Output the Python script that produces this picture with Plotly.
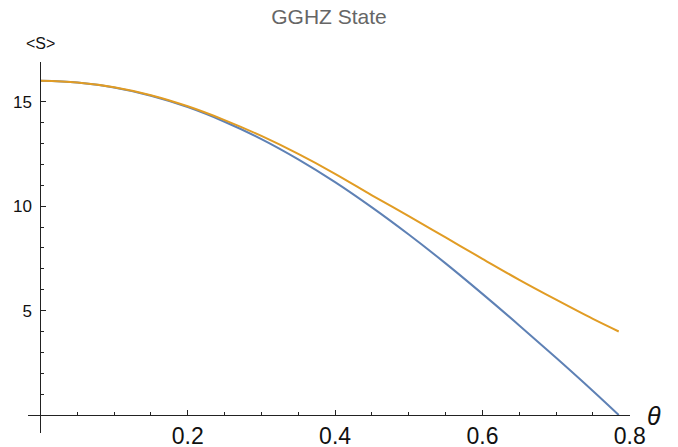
import plotly.graph_objects as go

theta = [0.0, 0.05, 0.10, 0.15, 0.20, 0.25, 0.30, 0.35, 0.40, 0.45,
         0.50, 0.55, 0.60, 0.65, 0.70, 0.75, 0.785]
s_blue = [16.00, 15.92, 15.68, 15.28, 14.74, 14.04, 13.21, 12.24, 11.15, 9.94,
          8.64, 7.26, 5.80, 4.29, 2.74, 1.15, 0.00]
s_orange = [16.00, 15.92, 15.69, 15.31, 14.78, 14.12, 13.36, 12.50, 11.55, 10.52,
            9.52, 8.50, 7.48, 6.47, 5.52, 4.60, 4.00]

x_major = [0.2, 0.4, 0.6, 0.8]
x_labels = ["0.2", "0.4", "0.6", "0.8"]
x_minor = [0.05, 0.10, 0.15, 0.25, 0.30, 0.35, 0.45, 0.50, 0.55, 0.65, 0.70, 0.75]
y_major = [5, 10, 15]
y_labels = ["5", "10", "15"]
y_minor = [1, 2, 3, 4, 6, 7, 8, 9, 11, 12, 13, 14]

title_text = "GGHZ State"
x_title = "θ"
y_title = "&lt;S&gt;"

W, H = 678, 447
L, R, T, B = 28, 48, 62, 14
x_rng = [-0.0168, 0.8003]
y_rng = [-0.86, 16.9]

axis_col = "#222222"
font_fam = "Liberation Sans, Arial, sans-serif"

fig = go.Figure()
fig.add_trace(go.Scatter(x=theta, y=s_blue, mode="lines", line_shape="spline",
                         line=dict(color="rgb(94,129,181)", width=2), showlegend=False))
fig.add_trace(go.Scatter(x=theta, y=s_orange, mode="lines", line_shape="spline",
                         line=dict(color="rgb(225,156,36)", width=2), showlegend=False))

# positions of the axes crossing at the origin, in paper fractions
x_pos = (0 - y_rng[0]) / (y_rng[1] - y_rng[0])
y_pos = (0 - x_rng[0]) / (x_rng[1] - x_rng[0])
ph = H - T - B
pw = W - L - R

fig.update_layout(
    width=W, height=H,
    margin=dict(l=L, r=R, t=T, b=B, autoexpand=False),
    plot_bgcolor="white", paper_bgcolor="white",
    font=dict(family=font_fam, color="#111111"),
    title=dict(text=title_text, x=0.5, xref="paper", xanchor="center",
               y=1 - 17 / H, yref="container", yanchor="middle",
               font=dict(size=21, color="#666666", family=font_fam)),
    xaxis=dict(range=x_rng, anchor="free", position=x_pos, showline=True,
               automargin=False,
               linecolor=axis_col, linewidth=1.2, ticks="inside", ticklen=5,
               tickcolor=axis_col, tickwidth=1.2,
               tickvals=x_major, ticktext=x_labels, showgrid=False, zeroline=False,
               tickfont=dict(size=23, color="#111111"),
               minor=dict(tickvals=x_minor, ticks="inside", ticklen=3,
                          tickcolor=axis_col, tickwidth=1, showgrid=False)),
    yaxis=dict(range=y_rng, anchor="free", position=y_pos, showline=True,
               automargin=False, ticklabelstandoff=5,
               linecolor=axis_col, linewidth=1.2, ticks="inside", ticklen=5,
               tickcolor=axis_col, tickwidth=1.2,
               tickvals=y_major, ticktext=y_labels, showgrid=False, zeroline=False,
               tickfont=dict(size=17, color="#111111"),
               minor=dict(tickvals=y_minor, ticks="inside", ticklen=3,
                          tickcolor=axis_col, tickwidth=1, showgrid=False)),
    annotations=[
        dict(text=y_title, xref="paper", yref="paper",
             x=y_pos, y=1 + 19 / ph, xanchor="center", yanchor="middle",
             showarrow=False, font=dict(size=16, color="#111111", family=font_fam)),
        dict(text="<i>" + x_title + "</i>", xref="paper", yref="paper",
             x=1 + 24 / pw, y=x_pos - 1 / ph, xanchor="center",
             yanchor="middle", showarrow=False,
             font=dict(size=25, color="#111111", family=font_fam)),
    ],
)

fig.write_html("out.html")
